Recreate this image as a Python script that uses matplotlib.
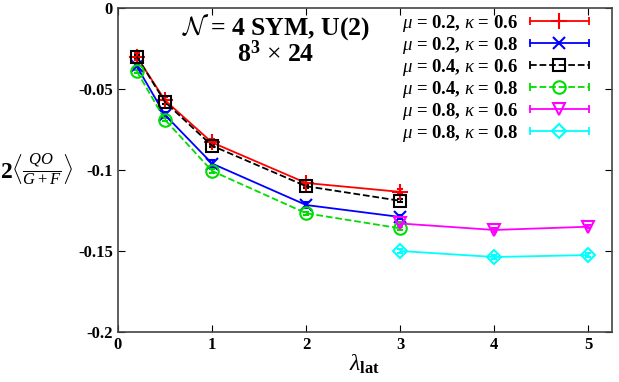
import matplotlib
matplotlib.use("Agg")
import matplotlib.pyplot as plt
from matplotlib.lines import Line2D
from matplotlib.legend_handler import HandlerLine2D

plt.rcParams['font.family'] = ['Liberation Serif', 'DejaVu Serif']
plt.rcParams['font.weight'] = 'bold'
plt.rcParams['mathtext.fontset'] = 'custom'
plt.rcParams['mathtext.rm'] = 'Liberation Serif:weight=regular'
plt.rcParams['mathtext.it'] = 'Liberation Serif:style=italic:weight=regular'
plt.rcParams['mathtext.bf'] = 'Liberation Serif:weight=bold'
plt.rcParams['mathtext.cal'] = 'cmsy10'

x_lo = [0.2, 0.5, 1, 2, 3]
x_hi = [3, 4, 5]

y_m02_k06 = [-0.030, -0.057, -0.083, -0.108, -0.1135]
e_m02_k06 = [0.002, 0.002, 0.002, 0.002, 0.0015]
y_m02_k08 = [-0.036, -0.066, -0.096, -0.1216, -0.129]
e_m02_k08 = [0.002, 0.002, 0.002, 0.002, 0.0015]
y_m04_k06 = [-0.030, -0.058, -0.085, -0.110, -0.119]
e_m04_k06 = [0.001, 0.001, 0.001, 0.001, 0.001]
y_m04_k08 = [-0.039, -0.069, -0.1006, -0.1267, -0.136]
e_m04_k08 = [0.001, 0.001, 0.001, 0.001, 0.001]
y_m08_k06 = [-0.133, -0.137, -0.135]
e_m08_k06 = [0.001, 0.001, 0.001]
y_m08_k08 = [-0.150, -0.1537, -0.1525]
e_m08_k08 = [0.001, 0.001, 0.001]

labels = [r'$\mathit{\mu}$ = 0.2, $\mathit{\kappa}$ = 0.6', r'$\mathit{\mu}$ = 0.2, $\mathit{\kappa}$ = 0.8',
          r'$\mathit{\mu}$ = 0.4, $\mathit{\kappa}$ = 0.6', r'$\mathit{\mu}$ = 0.4, $\mathit{\kappa}$ = 0.8',
          r'$\mathit{\mu}$ = 0.8, $\mathit{\kappa}$ = 0.6', r'$\mathit{\mu}$ = 0.8, $\mathit{\kappa}$ = 0.8']

fig = plt.figure(figsize=(6.19, 3.82), dpi=100)
ax = fig.add_axes([0.1906, 0.1309, 0.798, 0.848])

series = [
    (x_lo, y_m02_k06, e_m02_k06, '#ff0000', '+', '-', 12),
    (x_lo, y_m02_k08, e_m02_k08, '#0000ff', 'x', '-', 9),
    (x_lo, y_m04_k06, e_m04_k06, '#000000', 's', '--', 9),
    (x_lo, y_m04_k08, e_m04_k08, '#00dd00', 'o', '--', 9),
    (x_hi, y_m08_k06, e_m08_k06, '#ff00ff', 'v', '-', 9),
    (x_hi, y_m08_k08, e_m08_k08, '#00ffff', 'D', '-', 7),
]
handles = []
hmap = {}
for (xs, ys, es, c, m, ls, ms), lab in zip(series, labels):
    ax.errorbar(xs, ys, yerr=es, color=c, marker=m, ls=ls, lw=1.3,
                markersize=ms, markerfacecolor='none', markeredgewidth=1.5,
                capsize=2, elinewidth=1.0)
    cap = Line2D([], [], color=c, ls=ls, lw=1.3, marker='|', markersize=6,
                 markeredgewidth=1.3)
    mk = Line2D([], [], color=c, ls='none', marker=m, markersize=ms,
                markerfacecolor='none', markeredgewidth=1.5)
    hmap[cap] = HandlerLine2D(numpoints=2, marker_pad=0)
    hmap[mk] = HandlerLine2D(numpoints=1)
    handles.append((cap, mk))

ax.set_xlim(0, 5.25)
ax.set_ylim(-0.2, 0)
ax.set_xticks([0, 1, 2, 3, 4, 5])
ax.set_yticks([0, -0.05, -0.1, -0.15, -0.2])
ax.set_yticklabels(['0', '-0.05', '-0.1', '-0.15', '-0.2'])
ax.tick_params(direction='in', top=True, right=True, labelsize=12, length=5)
for s in ax.spines.values():
    s.set_color('#444444')
    s.set_linewidth(1.2)

ax.set_xlabel(r'$\mathit{\lambda}_{\mathbf{lat}}$', fontsize=17, labelpad=0)
ax.set_ylabel(r'$\mathbf{2}\langle\frac{\mathit{QO}}{\mathit{G+F}}\rangle$', fontsize=17,
              rotation=0, labelpad=30, va='center')

ax.text(0.32, 0.917, r'$\mathcal{N}$ = 4 SYM, U(2)', transform=ax.transAxes,
        ha='center', va='baseline', fontsize=18.5)
ax.text(0.32, 0.833, r'8$^{\mathbf{3}}$ $\times$ 24', transform=ax.transAxes,
        ha='center', va='baseline', fontsize=18.5)

ax.legend(handles, labels, handler_map=hmap, loc='upper right', frameon=False,
          markerfirst=False,
          fontsize=13.5, handlelength=3.15, handletextpad=0.6,
          labelspacing=0.05, borderaxespad=0, borderpad=0,
          bbox_to_anchor=(0.9534, 0.985))

fig.savefig('out.png', dpi=100)
